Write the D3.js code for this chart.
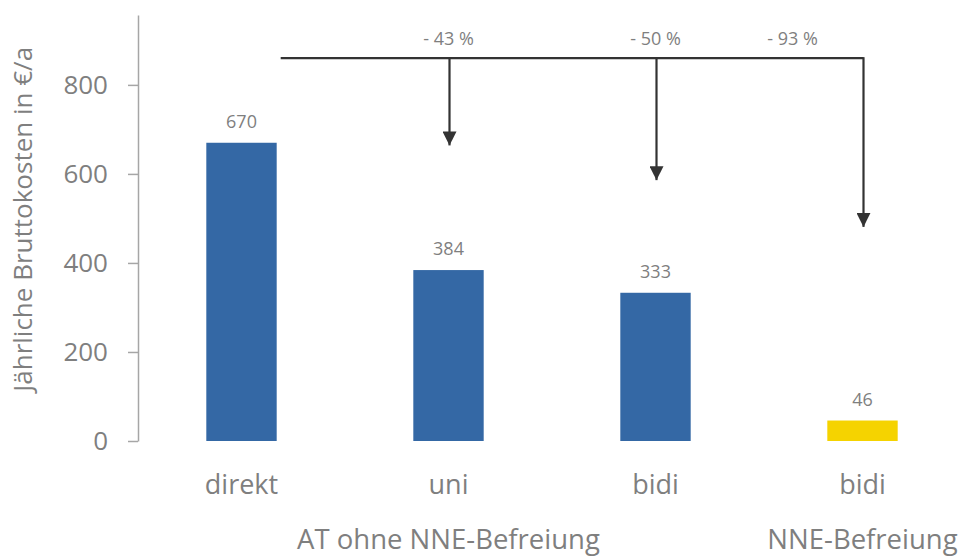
<!DOCTYPE html>
<html>
<head>
<meta charset="utf-8">
<script src="https://cdn.jsdelivr.net/npm/d3@7"></script>
<style>
  body { margin: 0; background: #fff; }
  svg { display: block; font-family: "Open Sans", "Noto Sans", sans-serif; }
</style>
</head>
<body>
<svg id="chart" width="959" height="559"></svg>
<script>
// data
const categories = ['direkt', 'uni', 'bidi', 'bidi'];
const values = [670, 384, 333, 46];
const barColours = ['#3468a5', '#3468a5', '#3468a5', '#f5d300'];
const groups = [
    { label: 'AT ohne NNE-Befreiung', from: 0, to: 2 },
    { label: 'NNE-Befreiung', from: 3, to: 3 }
];
const yTicks = [0, 200, 400, 600, 800];
const reductions = ['- 43 %', '- 50 %', '- 93 %'];
const arrowTargets = [1, 2, 3];       // which bar each arrow points at
const arrowEnds = [664, 586, 481];    // arrow tip level, in €/a
const bracketLevel = 860;             // level of the horizontal connector
const labelShift = [0, 0, -70];       // horizontal nudge of the % labels

const width = 959, height = 559;
const margin = { left: 138, bottom: 118, top: 15 };
const plotRight = 966;

const svg = d3.select('#chart');
const grey = '#7f7f7f';

const x = d3.scaleBand()
    .domain(d3.range(categories.length))
    .range([margin.left, plotRight])
    .paddingInner(0.66)
    .paddingOuter(0.33);

const y = d3.scaleLinear()
    .domain([0, 957])
    .range([height - margin.bottom, margin.top]);

// y axis
const yAxis = svg.append('g')
    .attr('transform', `translate(${margin.left},0)`)
    .call(d3.axisLeft(y).tickValues(yTicks).tickSize(10).tickPadding(20).tickSizeOuter(0));
yAxis.select('.domain').attr('stroke', '#a6a6a6').attr('stroke-width', 1.5);
yAxis.selectAll('.tick line').attr('stroke', '#a6a6a6').attr('stroke-width', 1.5);
yAxis.selectAll('.tick text')
    .attr('fill', grey)
    .style('font-size', '26px')
    .style('font-family', '"Open Sans", sans-serif');

svg.append('text')
    .attr('transform', `translate(32, ${y(498)}) rotate(-90)`)
    .attr('text-anchor', 'middle')
    .attr('fill', grey)
    .style('font-size', '26px')
    .text('Jährliche Bruttokosten in €/a');

// bars
svg.selectAll('.bar')
    .data(values)
    .enter().append('rect')
    .attr('class', 'bar')
    .attr('x', (d, i) => x(i))
    .attr('width', x.bandwidth())
    .attr('y', d => y(d))
    .attr('height', d => y(0) - y(d))
    .attr('fill', (d, i) => barColours[i]);

// value labels
svg.selectAll('.val')
    .data(values)
    .enter().append('text')
    .attr('class', 'val')
    .attr('x', (d, i) => x(i) + x.bandwidth() / 2)
    .attr('y', d => y(d) - 15)
    .attr('text-anchor', 'middle')
    .attr('fill', grey)
    .style('font-size', '18px')
    .text(d => d);

// category labels
svg.selectAll('.cat')
    .data(categories)
    .enter().append('text')
    .attr('class', 'cat')
    .attr('x', (d, i) => x(i) + x.bandwidth() / 2)
    .attr('y', 494)
    .attr('text-anchor', 'middle')
    .attr('fill', grey)
    .style('font-size', '27px')
    .text(d => d);

// group labels
svg.selectAll('.grp')
    .data(groups)
    .enter().append('text')
    .attr('class', 'grp')
    .attr('x', d => (x(d.from) + x(d.to) + x.bandwidth()) / 2)
    .attr('y', 549)
    .attr('text-anchor', 'middle')
    .attr('fill', grey)
    .style('font-size', '27.5px')
    .text(d => d.label);

// reduction arrows
svg.append('defs').append('marker')
    .attr('id', 'head')
    .attr('viewBox', '0 0 10 10')
    .attr('refX', 10).attr('refY', 5)
    .attr('markerUnits', 'userSpaceOnUse')
    .attr('markerWidth', 14).attr('markerHeight', 14)
    .attr('orient', 'auto')
    .append('path')
    .attr('d', 'M0,0L10,5L0,10Z')
    .attr('fill', '#333');

const cx = i => x(i) + x.bandwidth() / 2;
const lastX = cx(arrowTargets[arrowTargets.length - 1]);

svg.append('line')
    .attr('x1', x(0) + x.bandwidth() + 4)
    .attr('x2', lastX + 1)
    .attr('y1', y(bracketLevel))
    .attr('y2', y(bracketLevel))
    .attr('stroke', '#333')
    .attr('stroke-width', 2.2);

svg.selectAll('.arrow')
    .data(arrowTargets)
    .enter().append('line')
    .attr('class', 'arrow')
    .attr('x1', d => cx(d) + 1)
    .attr('x2', d => cx(d) + 1)
    .attr('y1', y(bracketLevel) - 1)
    .attr('y2', (d, i) => y(arrowEnds[i]))
    .attr('stroke', '#333')
    .attr('stroke-width', 2.2)
    .attr('marker-end', 'url(#head)');

svg.selectAll('.pct')
    .data(reductions)
    .enter().append('text')
    .attr('class', 'pct')
    .attr('x', (d, i) => cx(arrowTargets[i]) + labelShift[i])
    .attr('y', y(bracketLevel) - 13)
    .attr('text-anchor', 'middle')
    .attr('fill', grey)
    .style('font-size', '18px')
    .text(d => d);
</script>
</body>
</html>
